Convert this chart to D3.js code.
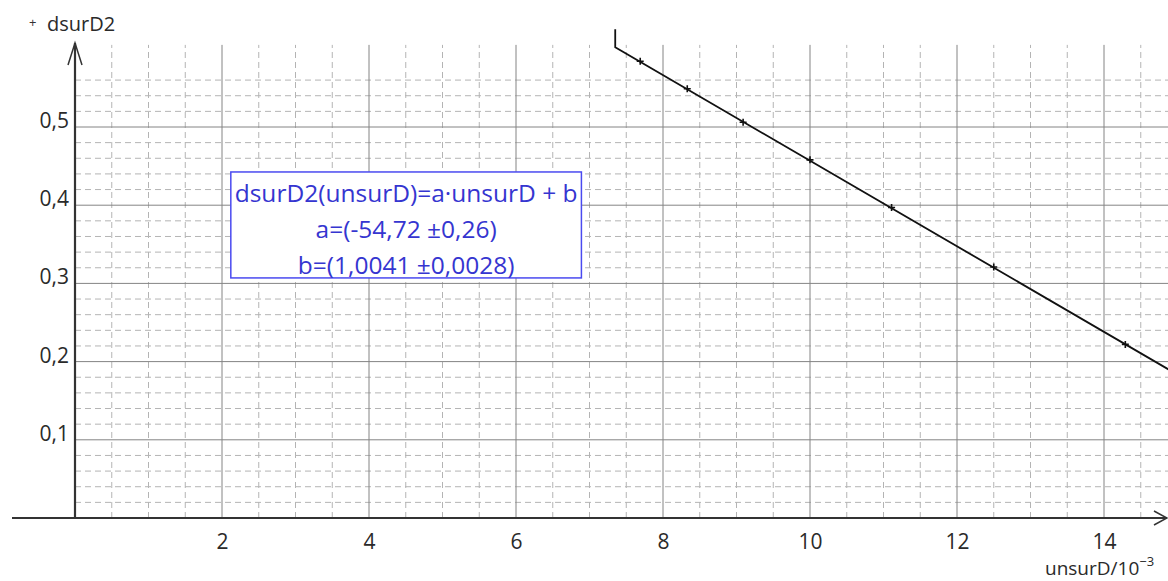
<!DOCTYPE html>
<html>
<head>
<meta charset="utf-8">
<script src="https://cdn.jsdelivr.net/npm/d3@7"></script>
<style>
  body { margin: 0; background: #fff; }
  text { font-family: "Open Sans", sans-serif; }
</style>
</head>
<body>
<div id="graph"></div>
<script>
// measured points (unsurD in 10^-3, dsurD2)
var unsurD = [7.69, 8.33, 9.09, 10.0, 11.11, 12.5, 14.29];
var dsurD2 = [0.584, 0.549, 0.506, 0.458, 0.397, 0.321, 0.222];

// linear fit
var fitA = -0.05472;
var fitB = 1.0041;
var fitStart = 7.35;
var fitEnd = 15;

var xTicks = [2, 4, 6, 8, 10, 12, 14];
var yTicks = [0.1, 0.2, 0.3, 0.4, 0.5];
var boxLines = ["dsurD2(unsurD)=a\u00b7unsurD + b", "a=(-54,72 \u00b10,26)", "b=(1,0041 \u00b10,0028)"];

var W = 1168, H = 581;
var x = d3.scaleLinear().domain([0, 14]).range([75, 1104]);
var y = d3.scaleLinear().domain([0, 0.5]).range([518, 127]);
var fr = d3.formatLocale({decimal: ",", thousands: " ", grouping: [3], currency: ["", "€"]});
var fmt = fr.format("~g");

var svg = d3.select("#graph").append("svg")
    .attr("width", W)
    .attr("height", H);

// minor grid
var minorX = d3.range(1, 30).map(function(i){ return i * 0.5; })
    .filter(function(v){ return v % 2 != 0; });
var minorY = d3.range(1, 29).map(function(i){ return +(i * 0.02).toFixed(2); })
    .filter(function(v){ return Math.round(v * 100) % 10 != 0; });

svg.append("g").selectAll("line")
    .data(minorX)
  .enter().append("line")
    .attr("x1", function(d){ return x(d); })
    .attr("x2", function(d){ return x(d); })
    .attr("y1", y(0))
    .attr("y2", y(0.605))
    .attr("stroke", "#b4b4b4")
    .attr("stroke-dasharray", "6,4");

svg.append("g").selectAll("line")
    .data(minorY)
  .enter().append("line")
    .attr("x1", x(0))
    .attr("x2", W)
    .attr("y1", function(d){ return y(d); })
    .attr("y2", function(d){ return y(d); })
    .attr("stroke", "#b4b4b4")
    .attr("stroke-dasharray", "6,4");

// major grid
svg.append("g").selectAll("line")
    .data(xTicks)
  .enter().append("line")
    .attr("x1", function(d){ return x(d); })
    .attr("x2", function(d){ return x(d); })
    .attr("y1", y(0))
    .attr("y2", y(0.605))
    .attr("stroke", "#848484");

svg.append("g").selectAll("line")
    .data(yTicks)
  .enter().append("line")
    .attr("x1", x(0))
    .attr("x2", W)
    .attr("y1", function(d){ return y(d); })
    .attr("y2", function(d){ return y(d); })
    .attr("stroke", "#848484");

// tick labels through d3 axes
var xAxis = d3.axisBottom(x).tickValues(xTicks).tickSize(0).tickPadding(16).tickFormat(fmt);
var gx = svg.append("g")
    .attr("transform", "translate(0," + y(0) + ")")
    .call(xAxis);
gx.select(".domain").remove();
gx.selectAll("text")
    .attr("font-size", 21)
    .attr("font-family", "Open Sans, sans-serif")
    .attr("fill", "#2a2a2a");

var yAxis = d3.axisLeft(y).tickValues(yTicks).tickSize(0).tickPadding(6).tickFormat(fmt);
var gy = svg.append("g")
    .attr("transform", "translate(" + x(0) + ",0)")
    .call(yAxis);
gy.select(".domain").remove();
gy.selectAll("text")
    .attr("font-size", 21)
    .attr("font-family", "Open Sans, sans-serif")
    .attr("fill", "#2a2a2a")
    .attr("dy", "0.02em");

// axes with arrows
svg.append("line")
    .attr("x1", 12).attr("x2", W - 1)
    .attr("y1", y(0)).attr("y2", y(0))
    .attr("stroke", "#333").attr("stroke-width", 2.2);
svg.append("path")
    .attr("d", "M" + (W - 14) + "," + (y(0) - 7) + "L" + (W - 1) + "," + y(0) + "L" + (W - 14) + "," + (y(0) + 7))
    .attr("fill", "none").attr("stroke", "#333").attr("stroke-width", 1.5);

svg.append("line")
    .attr("x1", x(0)).attr("x2", x(0))
    .attr("y1", y(0)).attr("y2", 43)
    .attr("stroke", "#333").attr("stroke-width", 2.2);
svg.append("path")
    .attr("d", "M" + (x(0) - 7) + ",65L" + x(0) + ",43L" + (x(0) + 7) + ",65")
    .attr("fill", "none").attr("stroke", "#333").attr("stroke-width", 1.5);

// axis titles
svg.append("text")
    .attr("x", 29).attr("y", 27)
    .attr("font-size", 13).attr("fill", "#333")
    .text("+");
svg.append("text")
    .attr("x", 47).attr("y", 31)
    .attr("font-size", 20).attr("fill", "#2a2a2a")
    .text("dsurD2");
var t = svg.append("text")
    .attr("x", 1045).attr("y", 575)
    .attr("font-size", 19).attr("fill", "#2a2a2a")
    .text("unsurD/10");
t.append("tspan")
    .attr("font-size", 13).attr("dy", -9)
    .text("\u22123");

// fit line
var fitLine = d3.line()
    .x(function(d){ return x(d[0]); })
    .y(function(d){ return y(d[1]); });
var fitPts = [[fitStart, 0.625], [fitStart, fitA * fitStart + fitB], [fitEnd, fitA * fitEnd + fitB]];
svg.append("path")
    .attr("d", fitLine(fitPts))
    .attr("fill", "none")
    .attr("stroke", "#111")
    .attr("stroke-width", 1.8);

// points as crosses
svg.append("g").selectAll("path")
    .data(unsurD)
  .enter().append("path")
    .attr("d", function(d, i){
        var px = x(d), py = y(dsurD2[i]);
        return "M" + (px - 3.5) + "," + py + "H" + (px + 3.5) + "M" + px + "," + (py - 3.5) + "V" + (py + 3.5);
    })
    .attr("stroke", "#111")
    .attr("stroke-width", 1.6);

// fit box
var bx0 = x(2.12), bx1 = x(6.89), by0 = y(0.4425), by1 = y(0.307);
svg.append("rect")
    .attr("x", bx0).attr("y", by0)
    .attr("width", bx1 - bx0).attr("height", by1 - by0)
    .attr("fill", "#fff")
    .attr("stroke", "#4a4af0")
    .attr("stroke-width", 1.5);
svg.append("g").selectAll("text")
    .data(boxLines)
  .enter().append("text")
    .attr("x", (bx0 + bx1) / 2)
    .attr("y", function(d, i){ return 202 + i * 36; })
    .attr("text-anchor", "middle")
    .attr("font-size", 24.5)
    .attr("fill", "#3535d0")
    .text(function(d){ return d; });
</script>
</body>
</html>
